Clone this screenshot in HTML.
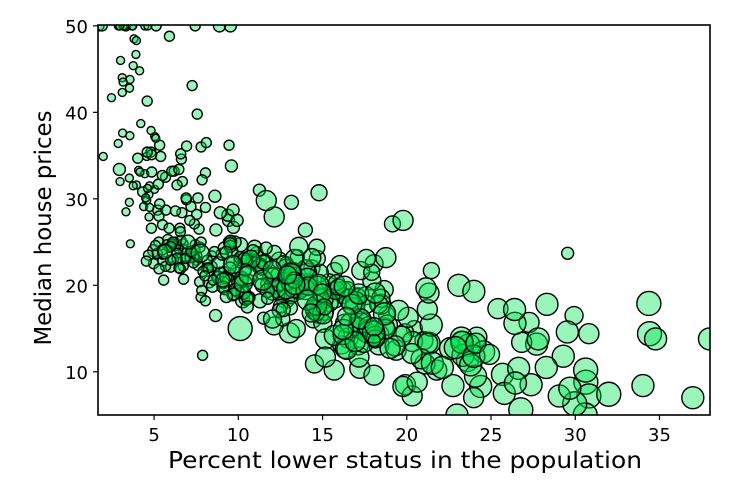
<!DOCTYPE html>
<html><head><meta charset="utf-8">
<style>
html,body{margin:0;padding:0;background:#fff;}
svg text{font-family:"DejaVu Sans","Liberation Sans",sans-serif;}
</style></head>
<body>
<svg id="chart" width="736" height="490" viewBox="0 0 736 490" xmlns="http://www.w3.org/2000/svg">
<g id="points"></g>
<rect x="98" y="25" width="612" height="390" fill="none" stroke="#000" stroke-width="1.6"/>
<g id="xticks"></g>
<g id="yticks"></g>
<text x="405" y="468" text-anchor="middle" font-size="23" textLength="474" lengthAdjust="spacingAndGlyphs">Percent lower status in the population</text>
<text transform="translate(51,228) rotate(-90)" text-anchor="middle" font-size="23" textLength="235" lengthAdjust="spacingAndGlyphs">Median house prices</text>
</svg>
<script>
const lstat=[4.98,9.14,4.03,2.94,5.33,5.21,12.43,19.15,29.93,17.1,20.45,13.27,15.71,8.26,10.26,8.47,6.58,14.67,11.69,11.28,21.02,13.83,18.72,19.88,16.3,16.51,14.81,17.28,12.8,11.98,22.6,13.04,27.71,18.35,20.34,9.68,11.41,8.77,10.13,4.32,1.98,4.84,5.81,7.44,9.55,10.21,14.15,18.8,30.81,16.2,13.45,9.43,5.28,8.43,14.8,4.81,5.77,3.95,6.86,9.22,13.15,14.44,6.73,9.5,8.05,4.67,10.24,8.1,13.09,8.79,6.72,9.88,5.52,7.54,6.78,8.94,11.97,10.27,12.34,9.1,5.29,7.22,6.72,7.51,9.62,6.53,12.86,8.44,5.5,5.7,8.81,8.2,8.16,6.21,10.59,6.65,11.34,4.21,3.57,6.19,9.42,7.67,10.63,13.44,12.33,16.47,18.66,14.09,12.27,15.55,13.0,10.16,16.21,17.09,10.45,15.76,12.04,10.3,15.37,13.61,14.37,14.27,17.93,25.41,17.58,14.81,27.26,17.19,15.39,18.34,12.6,12.26,11.12,15.03,17.31,16.96,16.9,14.59,21.32,18.46,24.16,34.41,26.82,26.42,29.29,27.8,16.65,29.53,28.32,21.45,14.1,13.28,12.12,15.79,15.12,15.02,16.14,4.59,6.43,7.39,5.5,1.73,1.92,3.32,11.64,9.81,3.7,12.14,11.1,11.32,14.43,12.03,14.69,9.04,9.64,5.33,10.11,6.29,6.92,5.04,7.56,9.45,4.82,5.68,13.98,13.15,4.45,6.68,4.56,5.39,5.1,4.69,2.87,5.03,4.38,2.97,4.08,8.61,6.62,4.56,4.45,7.43,3.11,3.81,2.88,10.87,10.97,18.06,14.66,23.09,17.27,23.98,16.03,9.38,29.55,9.47,13.51,9.69,17.92,10.5,9.71,21.46,9.93,7.6,4.14,4.63,3.13,6.36,3.92,3.76,11.65,5.25,2.47,3.95,8.05,10.88,9.54,4.73,6.36,7.37,11.38,12.4,11.22,5.19,12.5,18.46,9.16,10.15,9.52,6.56,5.9,3.59,3.53,3.54,6.57,9.25,3.11,5.12,7.79,6.9,9.59,7.26,5.91,11.25,8.1,10.45,14.79,7.44,3.16,13.65,13.0,6.59,7.73,6.58,3.53,2.98,6.05,4.16,7.19,4.85,3.76,4.59,3.01,3.16,7.85,8.23,12.93,7.14,7.6,9.51,3.33,3.56,4.7,8.58,10.4,6.27,7.39,15.84,4.97,4.74,6.07,9.5,8.67,4.86,6.93,8.93,6.47,7.53,4.54,9.97,12.64,5.98,11.72,7.9,9.28,11.5,18.33,15.94,10.36,12.73,7.2,6.87,7.7,11.74,6.12,5.08,6.15,12.79,9.97,7.34,9.09,12.43,7.83,5.68,6.75,8.01,9.8,10.56,8.51,9.74,9.29,5.49,8.65,7.18,4.61,10.53,12.67,6.36,5.99,5.89,5.98,5.49,7.79,4.5,8.05,5.57,17.6,13.27,11.48,12.67,7.79,14.19,10.19,14.64,5.29,7.12,14.0,13.33,3.26,3.73,2.96,9.53,8.88,34.77,37.97,13.44,23.24,21.24,23.69,21.78,17.21,21.08,23.6,24.56,30.63,30.81,28.28,31.99,30.62,20.85,17.11,18.76,25.68,15.17,16.35,17.12,19.37,19.92,30.59,29.97,26.77,20.32,20.31,19.77,27.38,22.98,23.34,12.13,26.4,19.78,10.11,21.22,34.37,20.08,36.98,29.05,25.79,26.64,20.62,22.74,15.02,15.7,14.1,23.29,17.16,24.39,15.69,14.52,21.52,24.08,17.64,19.69,12.03,16.22,15.17,23.27,18.05,26.45,34.02,22.88,22.11,19.52,16.59,18.85,23.79,23.98,17.79,16.44,18.13,19.31,17.44,17.73,17.27,16.74,18.71,18.13,19.01,16.94,16.23,14.7,16.42,14.65,13.99,10.29,13.22,14.13,17.15,21.32,18.13,14.76,16.29,12.87,14.36,11.66,18.14,24.1,18.68,24.91,18.03,13.11,10.74,7.74,7.01,10.42,13.34,10.58,14.98,11.45,18.06,23.97,29.68,18.07,13.35,12.01,13.59,17.6,21.14,14.1,12.92,15.1,14.33,9.67,9.08,5.64,6.48,7.88];
const medv=[24,21.6,34.7,33.4,36.2,28.7,22.9,27.1,16.5,18.9,15,18.9,21.7,20.4,18.2,19.9,23.1,17.5,20.2,18.2,13.6,19.6,15.2,14.5,15.6,13.9,16.6,14.8,18.4,21,12.7,14.5,13.2,13.1,13.5,18.9,20,21,24.7,30.8,34.9,26.6,25.3,24.7,21.2,19.3,20,16.6,14.4,19.4,19.7,20.5,25,23.4,18.9,35.4,24.7,31.6,23.3,19.6,18.7,16,22.2,25,33,23.5,19.4,22,17.4,20.9,24.2,21.7,22.8,23.4,24.1,21.4,20,20.8,21.2,20.3,28,23.9,24.8,22.9,23.9,26.6,22.5,22.2,23.6,28.7,22.6,22,22.9,25,20.6,28.4,21.4,38.7,43.8,33.2,27.5,26.5,18.6,19.3,20.1,19.5,19.5,20.4,19.8,19.4,21.7,22.8,18.8,18.7,18.5,18.3,21.2,19.2,20.4,19.3,22,20.3,20.5,17.3,18.8,21.4,15.7,16.2,18,14.3,19.2,19.6,23,18.4,15.6,18.1,17.4,17.1,13.3,17.8,14,14.4,13.4,15.6,11.8,13.8,15.6,14.6,17.8,15.4,21.5,19.6,15.3,19.4,17,15.6,13.1,41.3,24.3,23.3,27,50,50,50,22.7,25,50,23.8,23.8,22.3,17.4,19.1,23.1,23.6,22.6,29.4,23.2,24.6,29.9,37.2,39.8,36.2,37.9,32.5,26.4,29.6,50,32,29.8,34.9,37,30.5,36.4,31.1,29.1,50,33.3,30.3,34.6,34.9,32.9,24.1,42.3,48.5,50,22.6,24.4,22.5,24.4,20,21.7,19.3,22.4,28.1,23.7,25,23.3,28.7,21.5,23,26.7,21.7,27.5,30.1,44.8,50,37.6,31.6,46.7,31.5,24.3,31.7,41.7,48.3,29,24,25.1,31.5,23.7,23.3,22,20.1,22.2,23.7,17.6,18.5,24.3,20.5,24.5,26.2,24.4,24.8,29.6,42.8,21.9,20.9,44,50,36,30.1,33.8,43.1,48.8,31,36.5,22.8,30.7,50,43.5,20.7,21.1,25.2,24.4,35.2,32.4,32,33.2,33.1,29.1,35.1,45.4,35.4,46,50,32.2,22,20.1,23.2,22.3,24.8,28.5,37.3,27.9,23.9,21.7,28.6,27.1,20.3,22.5,29,24.8,22,26.4,33.1,36.1,28.4,33.4,28.2,22.8,20.3,16.1,22.1,19.4,21.6,23.8,16.2,17.8,19.8,23.1,21,23.8,23.1,20.4,18.5,25,24.6,23,22.2,19.3,22.6,19.8,17.1,19.4,22.2,20.7,21.1,19.5,18.5,20.6,19,18.7,32.7,16.5,23.9,31.2,17.5,17.2,23.1,24.5,26.6,22.9,24.1,18.6,30.1,18.2,20.6,17.8,21.7,22.7,22.6,25,19.9,20.8,16.8,21.9,27.5,21.9,23.1,50,50,50,50,50,13.8,13.8,15,13.9,13.3,13.1,10.2,10.4,10.9,11.3,12.3,8.8,7.2,10.5,7.4,10.2,11.5,15.1,23.2,9.7,13.8,12.7,13.1,12.5,8.5,5,6.3,5.6,7.2,12.1,8.3,8.5,5,11.9,27.9,17.2,27.5,15,17.2,17.9,16.3,7,7.2,7.5,10.4,8.8,8.4,16.7,14.2,20.8,13.4,11.7,8.3,10.2,10.9,11,9.5,14.5,14.1,16.1,14.3,11.7,13.4,9.6,8.7,8.4,12.8,10.5,17.1,18.4,15.4,10.8,11.8,14.9,12.6,14.1,13,13.4,15.2,16.1,17.8,14.9,14.1,12.7,13.5,14.9,20,16.4,17.7,19.5,20.2,21.4,19.9,19,19.1,19.1,20.1,19.9,19.6,23.2,29.8,13.8,13.3,16.7,12,14.6,21.4,23,23.7,25,21.8,20.6,21.2,19.1,20.6,15.2,7,8.1,13.6,20.1,21.8,24.5,23.1,19.7,18.3,21.2,17.5,16.8,22.4,20.6,23.9,22,11.9];
const sizes=[6,5,5,6,5,5,8,8,9,7,8,7,8,6,7,6,5,7,6,7,9,8,9,9,9,10,9,9,9,9,11,10,11,10,10,6,7,6,7,5,4,5,5,5,5,6,7,8,10,9,8,6,5,5,7,5,5,4,5,6,7,8,5,6,5,5,6,5,7,6,5,6,5,5,5,6,7,6,7,6,5,5,5,5,6,5,7,5,5,5,6,5,5,5,6,5,6,4,4,5,6,5,6,7,7,8,9,8,7,8,8,7,8,8,7,8,7,7,8,8,8,8,9,10,9,9,10,10,9,10,9,9,9,10,10,10,10,10,11,10,10,12,10,11,11,11,10,11,11,11,9,9,9,9,9,9,9,5,5,5,5,5,5,5,7,6,4,7,6,7,8,7,8,6,6,5,6,5,5,4,5,5,4,5,7,7,4,5,4,5,4,4,4,4,4,4,4,6,5,4,4,5,4,4,4,7,7,9,8,11,9,11,9,6,6,6,7,6,8,6,6,8,6,5,4,4,4,5,4,4,6,5,4,4,5,6,6,4,5,5,7,7,7,5,7,9,6,7,6,5,5,4,4,4,5,6,4,5,5,5,6,5,5,6,5,6,8,5,4,6,6,5,5,5,4,4,5,4,5,5,4,5,4,4,5,5,6,5,5,6,4,4,4,5,6,5,5,8,5,4,5,6,6,5,5,6,5,5,5,6,7,5,7,5,6,6,9,8,6,7,5,5,5,6,5,5,5,7,6,5,6,7,5,5,5,5,6,6,5,6,6,5,6,5,4,6,7,5,5,5,5,5,5,4,5,5,9,8,7,7,5,9,7,8,5,5,9,9,4,4,4,6,6,11,11,9,11,10,11,10,10,10,11,11,12,12,11,12,12,10,10,10,11,10,10,10,10,10,12,12,12,10,10,10,11,11,11,10,11,10,12,10,12,10,11,11,11,11,10,11,10,10,10,11,10,11,10,9,11,11,10,10,9,10,10,11,10,11,11,11,11,10,10,10,11,11,10,10,10,10,10,10,10,10,10,10,10,10,10,9,9,10,10,9,9,9,10,10,10,10,10,10,9,10,9,10,11,10,11,10,9,9,7,6,8,9,9,10,9,10,11,6,10,9,9,9,10,10,9,8,9,9,7,7,5,5,7];
const xTicks=[5,10,15,20,25,30,35];
const yTicks=[10,20,30,40,50];
const X0=98,X1=710,Y0=415,Y1=25,xMin=1.67,xMax=38.0,yMin=5,yMax=50.1;
function sx(v){return X0+(v-xMin)/(xMax-xMin)*(X1-X0);}
function sy(v){return Y0-(v-yMin)/(yMax-yMin)*(Y0-Y1);}
const NS="http://www.w3.org/2000/svg";
const svg=document.getElementById('chart');
const clip=document.createElementNS(NS,'clipPath');clip.setAttribute('id','pc');
const cr=document.createElementNS(NS,'rect');cr.setAttribute('x',X0);cr.setAttribute('y',Y1);cr.setAttribute('width',X1-X0);cr.setAttribute('height',Y0-Y1);
clip.appendChild(cr);svg.insertBefore(clip,svg.firstChild);
const pg=document.getElementById('points');pg.setAttribute('clip-path','url(#pc)');
for(let i=0;i<lstat.length;i++){
 const c=document.createElementNS(NS,'circle');
 
 
 c.setAttribute('cx',sx(lstat[i]));c.setAttribute('cy',sy(medv[i]));c.setAttribute('r',sizes[i]);
 c.setAttribute('fill','rgba(0,230,80,0.4)');c.setAttribute('stroke','#000');c.setAttribute('stroke-width','1.4');
 pg.appendChild(c);
}
const xg=document.getElementById('xticks');
xTicks.forEach(t=>{
 const l=document.createElementNS(NS,'line');
 
 
 l.setAttribute('x1',sx(t));l.setAttribute('x2',sx(t));l.setAttribute('y1',Y0);l.setAttribute('y2',Y0+5);l.setAttribute('stroke','#000');l.setAttribute('stroke-width','1.2');xg.appendChild(l);
 const tx=document.createElementNS(NS,'text');
 
 
 tx.setAttribute('x',sx(t));tx.setAttribute('y',Y0+26);tx.setAttribute('text-anchor','middle');tx.setAttribute('font-size','18');tx.textContent=t;xg.appendChild(tx);
});
const yg=document.getElementById('yticks');
yTicks.forEach(t=>{
 const l=document.createElementNS(NS,'line');
 
 
 l.setAttribute('x1',X0-5);l.setAttribute('x2',X0);l.setAttribute('y1',sy(t));l.setAttribute('y2',sy(t));l.setAttribute('stroke','#000');l.setAttribute('stroke-width','1.2');yg.appendChild(l);
 const tx=document.createElementNS(NS,'text');
 
 
 tx.setAttribute('x',X0-10);tx.setAttribute('y',sy(t)+7);tx.setAttribute('text-anchor','end');tx.setAttribute('font-size','18');tx.textContent=t;yg.appendChild(tx);
});
</script>
</body></html>
